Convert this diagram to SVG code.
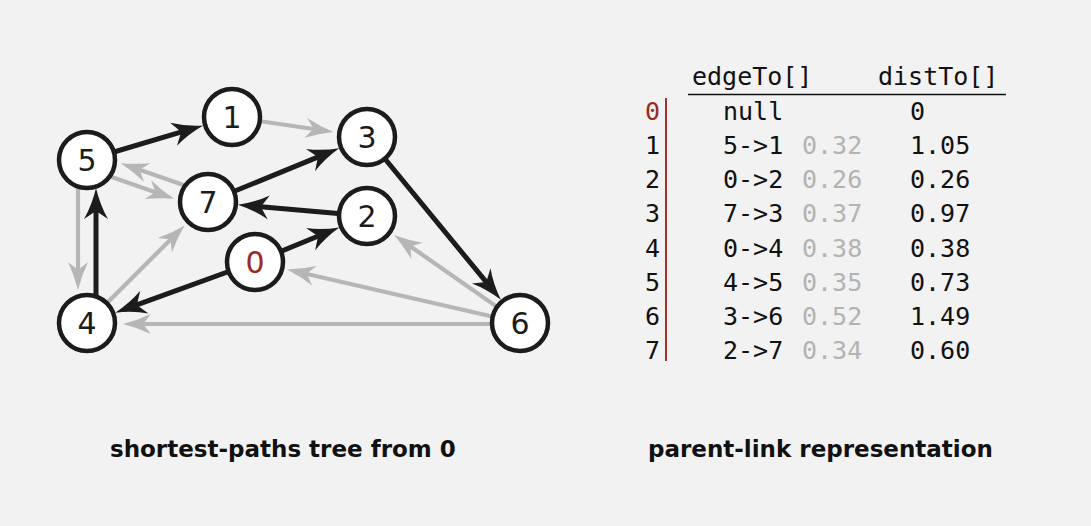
<svg xmlns="http://www.w3.org/2000/svg" width="1091" height="526" viewBox="0 0 1091 526">
<style>
.bk{stroke:#1c1c1c;stroke-width:5;fill:none;marker-end:url(#ab)}
.gy{stroke:#b6b6b6;stroke-width:4.2;fill:none;marker-end:url(#ag)}
.node circle{fill:#fff;stroke:#1c1c1c;stroke-width:4.5}
.node text{font-family:"DejaVu Sans",sans-serif;font-size:30px;fill:#1c1c1c;text-anchor:middle}
.mono{font-family:"DejaVu Sans Mono","Liberation Mono",monospace;font-size:25px;fill:#111}
.w{fill:#b3b3b3}
.cap{font-family:"DejaVu Sans",sans-serif;font-weight:bold;font-size:23px;fill:#111}
</style>
<defs>
<marker id="ab" markerUnits="userSpaceOnUse" orient="auto" refX="0" refY="0" markerWidth="40" markerHeight="40" overflow="visible">
<path d="M20,0 Q3,-4 -11,-12 L-3,0 L-11,12 Q3,4 20,0 Z" fill="#1c1c1c"/>
</marker>
<marker id="ag" markerUnits="userSpaceOnUse" orient="auto" refX="0" refY="0" markerWidth="40" markerHeight="40" overflow="visible">
<path d="M17,0 Q3,-3.5 -11,-10 L-3,0 L-11,10 Q3,3.5 17,0 Z" fill="#b6b6b6"/>
</marker>
</defs>
<rect width="1091" height="526" fill="#f2f2f2"/>
<g id="connectors">
<line class="gy" x1="232" y1="117" x2="316.6" y2="129.5"/>
<line class="gy" x1="210.6" y1="194.4" x2="136.8" y2="168.8"/>
<line class="gy" x1="84.4" y1="167.6" x2="158.2" y2="193.2"/>
<line class="gy" x1="78" y1="160" x2="78" y2="273"/>
<line class="gy" x1="87" y1="323" x2="172.6" y2="237.4"/>
<line class="gy" x1="520" y1="323" x2="408" y2="244.7"/>
<line class="gy" x1="520" y1="323" x2="303.7" y2="273.2"/>
<line class="gy" x1="520" y1="324" x2="140" y2="324"/>
<line class="bk" x1="87" y1="160" x2="184.1" y2="131.2"/>
<line class="bk" x1="208" y1="202" x2="320.7" y2="155.9"/>
<line class="bk" x1="367" y1="216" x2="257.8" y2="206.4"/>
<line class="bk" x1="255" y1="262" x2="320.8" y2="235"/>
<line class="bk" x1="255" y1="262" x2="134" y2="305.9"/>
<line class="bk" x1="96" y1="323" x2="96" y2="208"/>
<line class="bk" x1="367" y1="137" x2="488.2" y2="284.4"/>
</g>
<g id="node0" class="node"><circle cx="255" cy="262" r="28"/><text x="255" y="273" style="fill:#9b2a22">0</text></g>
<g id="node1" class="node"><circle cx="232" cy="117" r="28"/><text x="232" y="128">1</text></g>
<g id="node2" class="node"><circle cx="367" cy="216" r="28"/><text x="367" y="227">2</text></g>
<g id="node3" class="node"><circle cx="367" cy="137" r="28"/><text x="367" y="148">3</text></g>
<g id="node4" class="node"><circle cx="87" cy="323" r="28"/><text x="87" y="334">4</text></g>
<g id="node5" class="node"><circle cx="87" cy="160" r="28"/><text x="87" y="171">5</text></g>
<g id="node6" class="node"><circle cx="520" cy="323" r="28"/><text x="520" y="334">6</text></g>
<g id="node7" class="node"><circle cx="208" cy="202" r="28"/><text x="208" y="213">7</text></g>
<g id="table">
<text class="mono" x="692" y="85">edgeTo[]</text>
<text class="mono" x="878" y="85">distTo[]</text>
<line x1="688" y1="94.5" x2="1006" y2="94.5" stroke="#111" stroke-width="1.5"/>
<line x1="666" y1="98" x2="666" y2="361" stroke="#a0352b" stroke-width="2"/>
<text class="mono" x="645" y="120" style="fill:#9b2a22">0</text>
<text class="mono" x="645" y="154.1">1</text>
<text class="mono" x="645" y="188.3">2</text>
<text class="mono" x="645" y="222.4">3</text>
<text class="mono" x="645" y="256.6">4</text>
<text class="mono" x="645" y="290.7">5</text>
<text class="mono" x="645" y="324.9">6</text>
<text class="mono" x="645" y="359">7</text>
<text class="mono" x="723" y="120">null</text>
<text class="mono" x="723" y="154.1">5-&gt;1</text>
<text class="mono" x="723" y="188.3">0-&gt;2</text>
<text class="mono" x="723" y="222.4">7-&gt;3</text>
<text class="mono" x="723" y="256.6">0-&gt;4</text>
<text class="mono" x="723" y="290.7">4-&gt;5</text>
<text class="mono" x="723" y="324.9">3-&gt;6</text>
<text class="mono" x="723" y="359">2-&gt;7</text>
<text class="mono w" x="802" y="154.1">0.32</text>
<text class="mono w" x="802" y="188.3">0.26</text>
<text class="mono w" x="802" y="222.4">0.37</text>
<text class="mono w" x="802" y="256.6">0.38</text>
<text class="mono w" x="802" y="290.7">0.35</text>
<text class="mono w" x="802" y="324.9">0.52</text>
<text class="mono w" x="802" y="359">0.34</text>
<text class="mono" x="910" y="120">0</text>
<text class="mono" x="910" y="154.1">1.05</text>
<text class="mono" x="910" y="188.3">0.26</text>
<text class="mono" x="910" y="222.4">0.97</text>
<text class="mono" x="910" y="256.6">0.38</text>
<text class="mono" x="910" y="290.7">0.73</text>
<text class="mono" x="910" y="324.9">1.49</text>
<text class="mono" x="910" y="359">0.60</text>
</g>
<text class="cap" x="110" y="457">shortest-paths tree from 0</text>
<text class="cap" x="648" y="457">parent-link representation</text>
</svg>
